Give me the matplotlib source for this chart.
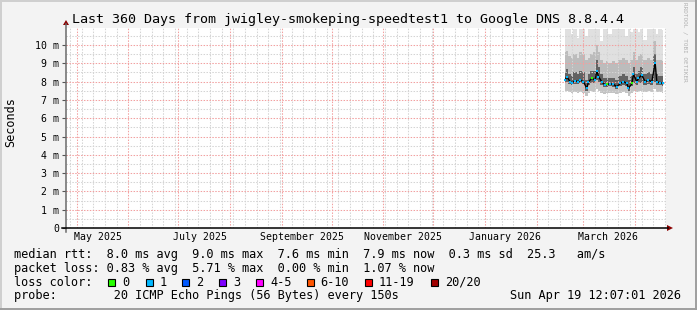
import matplotlib
matplotlib.use("Agg")
import matplotlib.pyplot as plt
import matplotlib.dates as mdates
from matplotlib.ticker import MultipleLocator, NullFormatter
from matplotlib.patches import Rectangle, Polygon
from matplotlib.lines import Line2D
import pandas as pd

plt.rcParams["font.family"] = ["DejaVu Sans Mono"]

W, H = 697, 310

# time window of the graph
t_start = pd.Timestamp("2025-04-24 12:07:01")
t_end = pd.Timestamp("2026-04-19 12:07:01")

# smokeping samples, values in ms
dates = ["2026-02-18", "2026-02-19", "2026-02-21", "2026-02-22", "2026-02-24",
         "2026-02-26", "2026-02-27", "2026-03-01", "2026-03-03", "2026-03-04",
         "2026-03-06", "2026-03-08", "2026-03-09", "2026-03-10", "2026-03-12",
         "2026-03-14", "2026-03-15", "2026-03-17", "2026-03-19", "2026-03-21",
         "2026-03-23", "2026-03-25", "2026-03-27", "2026-03-28", "2026-03-30",
         "2026-03-31", "2026-04-02", "2026-04-03", "2026-04-05", "2026-04-07",
         "2026-04-09", "2026-04-11", "2026-04-13", "2026-04-14", "2026-04-16",
         "2026-04-18"]
median = [8.09, 8.27, 7.99, 7.94, 8.05, 7.99, 8.09, 7.99, 7.63, 7.99,
          8.18, 8.09, 8.60, 8.27, 7.99, 7.81, 7.85, 7.88, 7.85, 7.72,
          7.90, 8.00, 7.90, 7.63, 7.90, 8.40, 7.99, 8.18, 8.36, 7.99,
          8.09, 7.99, 9.03, 7.99, 7.94, 7.90]
smoke_lo = [7.50, 7.50, 7.45, 7.40, 7.45, 7.40, 7.45, 7.40, 7.20, 7.40,
            7.50, 7.45, 7.60, 7.50, 7.40, 7.35, 7.40, 7.40, 7.40, 7.30,
            7.40, 7.45, 7.40, 7.20, 7.40, 7.50, 7.45, 7.50, 7.50, 7.45,
            7.50, 7.45, 7.60, 7.45, 7.45, 7.40]
core_lo = [7.90, 8.00, 7.85, 7.80, 7.85, 7.85, 7.90, 7.85, 7.50, 7.80,
           7.95, 7.90, 8.10, 8.00, 7.80, 7.70, 7.70, 7.75, 7.70, 7.60,
           7.75, 7.80, 7.75, 7.50, 7.75, 7.90, 7.80, 7.90, 7.95, 7.80,
           7.85, 7.80, 8.00, 7.80, 7.80, 7.75]
core_hi = [8.50, 8.70, 8.40, 8.30, 8.50, 8.40, 8.60, 8.50, 8.10, 8.40,
           8.60, 8.60, 9.20, 8.80, 8.40, 8.20, 8.20, 8.20, 8.20, 8.10,
           8.30, 8.40, 8.30, 8.10, 8.30, 8.80, 8.40, 8.60, 8.80, 8.40,
           8.50, 8.40, 9.50, 8.40, 8.30, 8.30]
smoke_mid = [9.6, 9.7, 9.4, 9.3, 9.5, 9.3, 9.6, 9.5, 9.2, 9.3,
             9.5, 9.6, 10.0, 9.6, 9.2, 9.0, 9.1, 9.0, 9.1, 9.0,
             9.2, 9.3, 9.2, 9.0, 9.2, 9.6, 9.2, 9.4, 9.5, 9.2,
             9.3, 9.2, 10.2, 9.2, 9.2, 9.1]
smoke_hi = [10.9, 10.9, 10.9, 10.6, 10.9, 10.4, 10.9, 10.9, 10.5, 10.9,
            10.9, 10.9, 10.9, 10.9, 10.2, 10.9, 10.9, 10.6, 10.9, 10.9,
            10.9, 10.9, 10.5, 10.9, 10.7, 10.9, 10.9, 10.7, 10.9, 10.3,
            10.9, 10.9, 10.9, 10.6, 10.9, 10.8]
lost = [1, 1, 1, 1, 1, 1, 1, 1, 1, 1,
        0, 1, 1, 1, 1, 1, 0, 1, 1, 1,
        1, 1, 1, 1, 0, 1, 1, 1, 1, 1,
        1, 1, 1, 1, 1, 1]

loss_labels = ["0", "1", "2", "3", "4-5", "6-10", "11-19", "20/20"]
loss_colors = ["#26ff00", "#00b8ff", "#0059ff", "#7e00ff", "#ff00ff",
               "#ff5500", "#ff0000", "#a10000"]

month_label_dates = ["2025-05-14", "2025-07-14", "2025-09-13",
                     "2025-11-13", "2026-01-13", "2026-03-16"]
month_labels = ["May 2025", "July 2025", "September 2025",
                "November 2025", "January 2026", "March 2026"]

y_ticks = [0, 1, 2, 3, 4, 5, 6, 7, 8, 9, 10]
y_tick_labels = ["0"] + [f"{v} m" for v in y_ticks[1:]]

title = "Last 360 Days from jwigley-smokeping-speedtest1 to Google DNS 8.8.4.4"
stats_rtt = "median rtt:  8.0 ms avg  9.0 ms max  7.6 ms min  7.9 ms now  0.3 ms sd  25.3   am/s"
stats_loss = "packet loss: 0.83 % avg  5.71 % max  0.00 % min  1.07 % now"
probe = "probe:        20 ICMP Echo Pings (56 Bytes) every 150s"
stamp = "Sun Apr 19 12:07:01 2026"


def P(x, y):
    # pixel position -> figure fraction
    return (x / W, 1 - y / H)


fig = plt.figure(figsize=(W / 100, H / 100), dpi=100, facecolor="#f3f3f3")
ax = fig.add_axes([66 / W, (H - 228) / H, 600 / W, 200 / H])
ax.set_facecolor("white")

t = pd.to_datetime(dates)
ax.fill_between(t, smoke_lo, smoke_hi, step="mid", color="#e0e0e0", lw=0, zorder=1)
ax.fill_between(t, core_lo, smoke_mid, step="mid", color="#bcbcbc", lw=0, zorder=1.1)
ax.fill_between(t, smoke_lo, core_hi, step="mid", color="#8e8e8e", lw=0, zorder=1.15, alpha=0.35)
ax.fill_between(t, core_lo, core_hi, step="mid", color="#626262", lw=0, zorder=1.2)
ax.plot(t, median, color="black", lw=1.0, zorder=3)
for ti, m, l in zip(t, median, lost):
    ax.plot([ti], [m], marker="s", ms=2.1, mew=0, color=loss_colors[l], zorder=4)

ax.set_xlim(t_start, t_end)
ax.set_ylim(0, 10.93)

# grid: monthly red, weekly grey, 1 ms red, 0.5 ms grey
ax.xaxis.set_major_locator(mdates.MonthLocator())
ax.xaxis.set_minor_locator(mdates.WeekdayLocator(byweekday=mdates.SU))
ax.xaxis.set_major_formatter(NullFormatter())
ax.set_yticks(y_ticks)
ax.set_yticklabels(y_tick_labels)
ax.yaxis.set_minor_locator(MultipleLocator(0.5))
ax.set_axisbelow(False)
ax.grid(True, which="major", color="#f2a0a0", lw=0.75, ls=(0, (1.4, 1.4)))
ax.grid(True, which="minor", color="#d4d4d4", lw=0.75, ls=(0, (1.4, 1.4)))
ax.tick_params(axis="x", which="both", length=0)
ax.tick_params(axis="y", which="major", length=3, width=0.8, color="#555555",
               labelsize=7.1, pad=2)
ax.tick_params(axis="y", which="minor", length=0)
for s in ax.spines.values():
    s.set_visible(False)

for d, lab in zip(month_label_dates, month_labels):
    ax.text(pd.Timestamp(d), -0.045, lab, transform=ax.get_xaxis_transform(),
            ha="center", va="center", fontsize=7.1)

# axes lines with arrows
fig.add_artist(Line2D(*zip(P(66, 232), P(66, 24)), transform=fig.transFigure,
                      color="#6a6a6a", lw=1.1))
fig.add_artist(Line2D(*zip(P(62, 228), P(668, 228)), transform=fig.transFigure,
                      color="black", lw=1.1))
fig.add_artist(Polygon([P(63, 25), P(69, 25), P(66, 20)], closed=True,
                       transform=fig.transFigure, color="#8b0000", lw=0))
fig.add_artist(Polygon([P(667, 225), P(667, 231), P(673, 228)], closed=True,
                       transform=fig.transFigure, color="#8b0000", lw=0))

# frame
fig.add_artist(Line2D([0, 1], [1 - 1 / H, 1 - 1 / H], transform=fig.transFigure, color="#cfcfcf", lw=1.4))
fig.add_artist(Line2D([1 / W, 1 / W], [0, 1], transform=fig.transFigure, color="#cfcfcf", lw=1.4))
fig.add_artist(Line2D([0, 1], [1 / H, 1 / H], transform=fig.transFigure, color="#9e9e9e", lw=1.4))
fig.add_artist(Line2D([1 - 1 / W, 1 - 1 / W], [0, 1], transform=fig.transFigure, color="#9e9e9e", lw=1.4))

fig.text(*P(348.5, 19), title, ha="center", va="center", fontsize=9.6)
fig.text(*P(11, 122), "Seconds", rotation=90, ha="center", va="center", fontsize=8.5)
fig.text(*P(685, 42), "RRDTOOL / TOBI OETIKER", rotation=-90, ha="center",
         va="center", fontsize=4.3, color="#b0b0b0")

fs = 8.6
fig.text(*P(14, 254.5), stats_rtt, ha="left", va="center", fontsize=fs)
fig.text(*P(14, 268.5), stats_loss, ha="left", va="center", fontsize=fs)
fig.text(*P(14, 282), "loss color:", ha="left", va="center", fontsize=fs)
box_x = [108, 145.7, 182.3, 219.3, 256, 306.7, 365, 430.7]
for bx, lab, col in zip(box_x, loss_labels, loss_colors):
    x0, y0 = P(bx, 285.5)
    fig.add_artist(Rectangle((x0, y0), 7 / W, 7 / H, transform=fig.transFigure,
                             facecolor=col, edgecolor="black", lw=0.8))
    fig.text(*P(bx + 14, 282), lab, ha="left", va="center", fontsize=fs)
fig.text(*P(14, 296), probe, ha="left", va="center", fontsize=fs)
fig.text(*P(681, 296), stamp, ha="right", va="center", fontsize=fs)

fig.savefig("out.png", dpi=100, facecolor=fig.get_facecolor())
